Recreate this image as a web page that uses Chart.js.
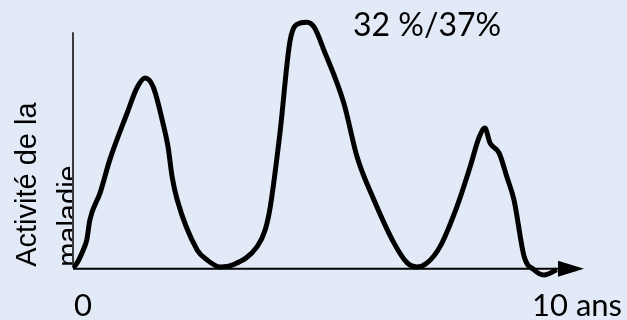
<!DOCTYPE html>
<html>
<head>
<meta charset="utf-8">
<script src="https://cdn.jsdelivr.net/npm/chart.js@4"></script>
<style>
  html, body { margin: 0; padding: 0; background: #e2eaf7; }
  #wrap { width: 627px; height: 320px; position: relative; }
</style>
</head>
<body>
<div id="wrap"><canvas id="activityChart"></canvas></div>
<script>
// curve: years vs. activity level
const years = [0, 0.08, 0.2, 0.27, 0.33, 0.53, 0.72, 1.06, 1.25, 1.41, 1.57, 1.76, 1.86, 1.94, 2.04, 2.43, 2.62, 2.88,
  3.13, 3.6, 3.76, 3.86, 4.05, 4.25, 4.44, 4.58, 4.72, 4.91, 5.3, 5.56, 5.89, 6.28, 6.54, 6.73,
  6.93, 7.18, 7.51, 7.77, 7.95, 8.06, 8.16, 8.34, 8.49, 8.63, 8.83, 9.02, 9.22, 9.47];
const activity = [0, 2.1, 7.6, 11.9, 20.3, 31.8, 45.8, 65.7, 76.3, 80.5, 76.7, 61.4, 51.3, 38.6, 28.8, 7.6, 3.4, 0.4,
  1.3, 8.9, 16.1, 25.8, 57.2, 96.6, 103.8, 104.2, 102.1, 92.4, 69.9, 47, 28.8, 10.6, 2.1, 0.4,
  2.1, 8.9, 25.8, 42.8, 55.5, 59.3, 53, 48.7, 38.6, 28.8, 4.7, -0.8, -3, -0.8];
const xTickLabels = ["0", "10 ans"];
const yAxisTitle = ["Activité de la", "maladie"];
const annotation = "32 %/37%";

const points = years.map((x, i) => ({ x: x, y: activity[i] }));

// Axes, arrow and labels
const sketchAxes = {
    id: "sketchAxes",
    beforeDraw(chart) {
        const c = chart.ctx;
        c.save();
        c.fillStyle = "#e2eaf7";
        c.fillRect(0, 0, chart.width, chart.height);
        c.restore();
    },
    afterDatasetsDraw(chart) {
        const c = chart.ctx;
        const xs = chart.scales.x, ys = chart.scales.y;
        const x0 = xs.getPixelForValue(0);
        const y0 = ys.getPixelForValue(0);
        const xEnd = xs.getPixelForValue(10);
        c.save();
        c.strokeStyle = "#000";
        c.fillStyle = "#000";
        // y axis
        c.lineWidth = 1.5;
        c.beginPath();
        c.moveTo(x0, ys.getPixelForValue(100));
        c.lineTo(x0, y0);
        c.stroke();
        // x axis
        c.lineWidth = 2;
        c.beginPath();
        c.moveTo(x0, y0 + 1);
        c.lineTo(xEnd - 20, y0 + 1);
        c.stroke();
        // arrow head
        c.beginPath();
        c.moveTo(xEnd, y0 + 1);
        c.lineTo(xEnd - 26, y0 - 7);
        c.lineTo(xEnd - 26, y0 + 9);
        c.closePath();
        c.fill();

        c.font = "31px Lato";
        c.textBaseline = "middle";
        c.textAlign = "left";
        c.fillText(xTickLabels[0], x0 + 1, 306);
        c.textAlign = "center";
        c.fillText(xTickLabels[1], xEnd - 7, 306);

        c.font = "32px Lato";
        c.textAlign = "left";
        c.fillText(annotation, 353, 26);

        // rotated axis title, second line hidden behind the plot edge
        c.beginPath();
        c.rect(0, 0, x0 - 1, chart.height);
        c.clip();
        c.font = "29px 'Liberation Sans'";
        c.translate(0, y0 - 1);
        c.rotate(-Math.PI / 2);
        c.textBaseline = "alphabetic";
        c.fillText(yAxisTitle[0], 0, 36);
        c.fillText(yAxisTitle[1], 0, 78);
        c.restore();
    }
};

new Chart(document.getElementById("activityChart"), {
    type: "scatter",
    data: {
        datasets: [{
            data: points,
            showLine: true,
            borderColor: "#000",
            borderWidth: 5,
            pointRadius: 0,
            tension: 0.4,
            cubicInterpolationMode: "monotone",
            fill: false
        }]
    },
    options: {
        responsive: true,
        maintainAspectRatio: false,
        animation: false,
        layout: {
            padding: { left: 73, right: 43, top: 18, bottom: 38 }
        },
        scales: {
            x: { type: "linear", min: 0, max: 10, display: false },
            y: { min: -6, max: 106, display: false }
        },
        plugins: {
            legend: { display: false },
            tooltip: { enabled: false }
        }
    },
    plugins: [sketchAxes]
});
</script>
</body>
</html>
